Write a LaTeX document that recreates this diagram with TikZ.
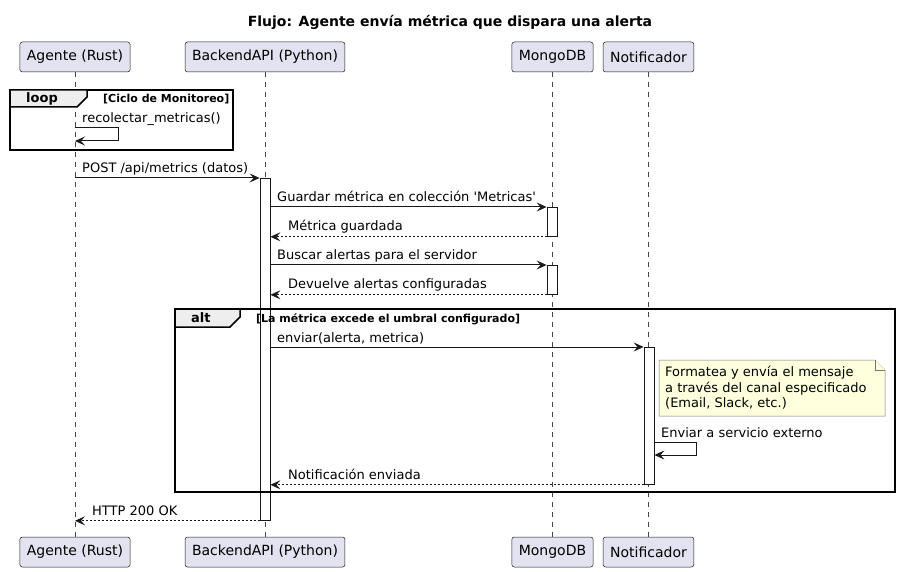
\documentclass[tikz,border=0pt]{standalone}
\usepackage{fontspec}
\setmainfont{DejaVu Sans}
\usetikzlibrary{positioning,calc,arrows.meta}
\definecolor{partfill}{HTML}{E2E2F0}
\definecolor{linecol}{HTML}{181818}
\definecolor{notefill}{HTML}{FEFFDD}
\definecolor{tabfill}{HTML}{EEEEEE}

\begin{document}
\begin{tikzpicture}[
    x=1pt, y=-1pt,
    participant/.style={rectangle, draw=linecol, fill=partfill, line width=0.5pt, rounded corners=2.5pt,
        minimum height=30pt, inner xsep=7pt, inner ysep=0pt, font=\fontsize{14}{16}\selectfont},
    lifeline/.style={draw=linecol!80, line width=0.5pt, dash pattern=on 5pt off 5pt},
    actbar/.style={rectangle, draw=linecol, fill=white, line width=0.8pt, minimum width=10pt, inner sep=0pt, anchor=north},
    msg/.style={draw=linecol, line width=1pt, -{Stealth[length=10pt, width=9pt, inset=4pt]}},
    ret/.style={msg, dash pattern=on 2pt off 2pt},
    msglabel/.style={anchor=base west, inner sep=0pt, font=\fontsize{13}{15}\selectfont},
    seqframe/.style={draw=black, line width=1.5pt},
    frametab/.style={draw=black, fill=tabfill, line width=1.5pt},
    tablabel/.style={anchor=base west, inner sep=0pt, font=\fontsize{13}{15}\selectfont\bfseries},
    guard/.style={anchor=base west, inner sep=0pt, font=\fontsize{11}{13}\selectfont\bfseries},
    notebox/.style={draw=linecol!60, fill=notefill, line width=0.5pt}
]
    \useasboundingbox (0,0) rectangle (900,572);

    % title
    \node[anchor=base, inner sep=0pt, font=\fontsize{14}{16}\selectfont\bfseries] (title) at (450,27)
        {Flujo: Agente envía métrica que dispara una alerta};

    % participants
    \node[participant] (agTop) at (75,57) {Agente (Rust)};
    \node[participant] (beTop) at (265,57) {BackendAPI (Python)};
    \node[participant] (mgTop) at (552.5,57) {MongoDB};
    \node[participant] (ntTop) at (648.5,57) {Notificador};
    \node[participant] (agBot) at (75,552) {Agente (Rust)};
    \node[participant] (beBot) at (265,552) {BackendAPI (Python)};
    \node[participant] (mgBot) at (552.5,552) {MongoDB};
    \node[participant] (ntBot) at (648.5,552) {Notificador};

    % lifelines
    \draw[lifeline] (agTop.south) -- (agBot.north);
    \draw[lifeline] (beTop.south) -- (beBot.north);
    \draw[lifeline] (mgTop.south) -- (mgBot.north);
    \draw[lifeline] (ntTop.south) -- (ntBot.north);

    % activations
    \node[actbar, minimum height=342pt] (beAct) at (265,178) {};
    \node[actbar, minimum height=29pt] (mgActA) at (552,207) {};
    \node[actbar, minimum height=29pt] (mgActB) at (552,265) {};
    \node[actbar, minimum height=137pt] (ntAct) at (649,347) {};

    % loop frame
    \draw[seqframe] (10,90) rectangle (233,150);
    \draw[frametab] (10,90) -- (87,90) -- (87,97) -- (77,107) -- (10,107) -- cycle;
    \node[tablabel] (loopLbl) at (26,103) {loop};
    \node[guard] (loopGuard) at (103,102.5) {[Ciclo de Monitoreo]};

    % alt frame
    \draw[seqframe] (175,309) rectangle (895,492);
    \draw[frametab] (175,309) -- (240,309) -- (240,317) -- (230,327) -- (175,327) -- cycle;
    \node[tablabel] (altLbl) at (191,322.5) {alt};
    \node[guard] (altGuard) at (256,322.5) {[La métrica excede el umbral configurado]};

    % messages
    \coordinate (agSelf) at (agTop.south |- 0,128);
    \draw[msg] (agSelf) -- ++(43,0) -- ++(0,13) -- ++(-43,0);
    \node[msglabel] (lblRecol) at (82,123) {recolectar\_metricas()};

    \draw[msg] (agTop.south |- beAct.north) -- (beAct.north west);
    \node[msglabel] (lblPost) at (82,173) {POST /api/metrics (datos)};

    \draw[msg] (beAct.east |- mgActA.north) -- (mgActA.north west);
    \node[msglabel] (lblGuardar) at (277,202) {Guardar métrica en colección \textquotesingle Metricas\textquotesingle};
    \draw[ret] (mgActA.south west) -- (beAct.east |- mgActA.south);
    \node[msglabel] (lblGuardada) at (288,231) {Métrica guardada};

    \draw[msg] (beAct.east |- mgActB.north) -- (mgActB.north west);
    \node[msglabel] (lblBuscar) at (277,260) {Buscar alertas para el servidor};
    \draw[ret] (mgActB.south west) -- (beAct.east |- mgActB.south);
    \node[msglabel] (lblDevuelve) at (288,289) {Devuelve alertas configuradas};

    \draw[msg] (beAct.east |- ntAct.north) -- (ntAct.north west);
    \node[msglabel] (lblEnviar) at (277,342) {enviar(alerta, metrica)};

    % note
    \draw[notebox] (659,360) -- (875,360) -- (885,370) -- (885,416) -- (659,416) -- cycle;
    \draw[notebox] (875,360) -- (875,370) -- (885,370);
    \node[msglabel] (noteA) at (665,376.5) {Formatea y envía el mensaje};
    \node[msglabel] (noteB) at (665,392) {a través del canal especificado};
    \node[msglabel] (noteC) at (665,407.5) {(Email, Slack, etc.)};

    \coordinate (ntSelf) at (ntAct.east |- 0,442);
    \draw[msg] (ntSelf) -- ++(42,0) -- ++(0,13) -- ++(-42,0);
    \node[msglabel] (lblExterno) at (661,437) {Enviar a servicio externo};

    \draw[ret] (ntAct.south west) -- (beAct.east |- ntAct.south);
    \node[msglabel] (lblEnviada) at (288,479) {Notificación enviada};

    \draw[ret] (beAct.south west) -- (agTop.south |- beAct.south);
    \node[msglabel] (lblHttp) at (92,515) {HTTP 200 OK};
\end{tikzpicture}
\end{document}
